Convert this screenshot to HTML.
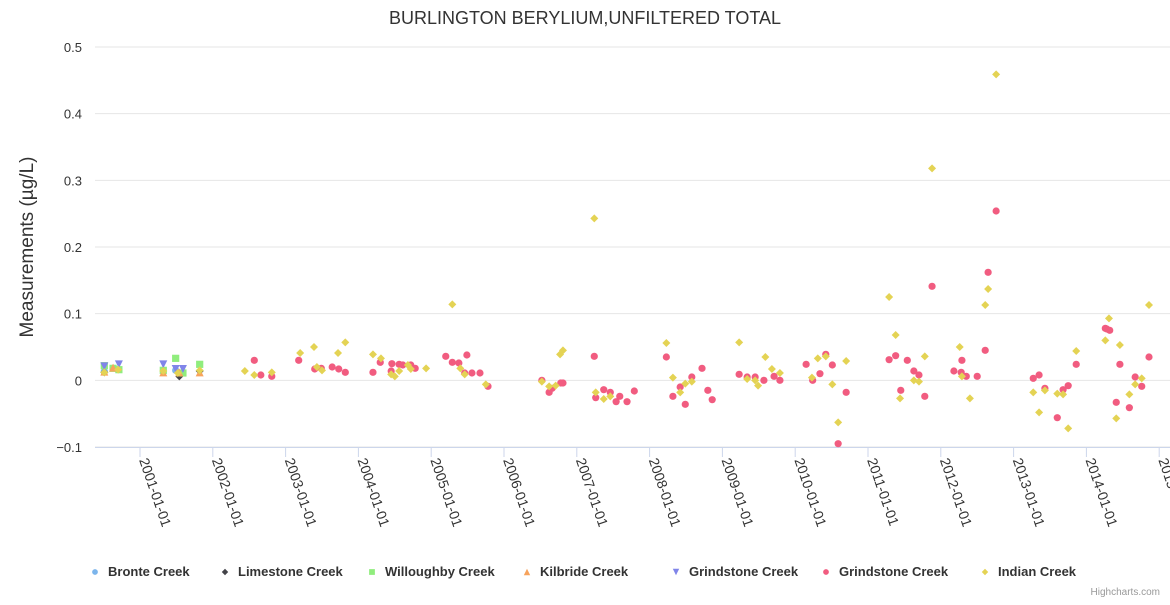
<!DOCTYPE html>
<html><head><meta charset="utf-8"><style>
body{margin:0;background:#fff;font-family:"Liberation Sans",sans-serif}
svg text{font-family:"Liberation Sans",sans-serif}
</style></head><body>
<svg id="chart" width="1170" height="600" xmlns="http://www.w3.org/2000/svg">
<text x="585" y="24" text-anchor="middle" font-size="18" fill="#333">BURLINGTON BERYLIUM,UNFILTERED TOTAL</text>
<text transform="translate(33,247) rotate(-90)" text-anchor="middle" font-size="19" fill="#333">Measurements (µg/L)</text>
<g id="grid"></g><g id="xaxis"></g><g id="marks"></g>
<g id="legend"></g>
<text x="1160" y="595" text-anchor="end" font-size="10" fill="#999">Highcharts.com</text>
</svg>
<script>
const yTicks=[-0.1,0,0.1,0.2,0.3,0.4,0.5];
const xTickYears=[2001,2002,2003,2004,2005,2006,2007,2008,2009,2010,2011,2012,2013,2014,2015];
const seriesNames=["Bronte Creek","Limestone Creek","Willoughby Creek","Kilbride Creek","Grindstone Creek","Grindstone Creek","Indian Creek"];
const bronteDates=[2000.51,2001.49];
const bronteVals=[0.013,0.015];
const limestoneDates=[2000.51,2001.54,2001.82];
const limestoneVals=[0.012,0.006,0.014];
const willoughbyDates=[2000.51,2000.63,2000.71,2001.32,2001.49,2001.59,2001.82];
const willoughbyVals=[0.022,0.018,0.016,0.015,0.033,0.011,0.024];
const kilbrideDates=[2000.51,2000.63,2001.32,2001.54,2001.82];
const kilbrideVals=[0.013,0.019,0.012,0.012,0.012];
const grindTriDates=[2000.51,2000.71,2001.32,2001.49,2001.59];
const grindTriVals=[0.021,0.024,0.024,0.017,0.017];
const grindDates=[2002.57,2002.66,2002.81,2003.18,2003.40,2003.49,2003.64,2003.73,2003.82,2004.20,2004.30,2004.45,2004.46,2004.56,2004.61,2004.72,2004.78,2005.20,2005.29,2005.38,2005.49,2005.46,2005.56,2005.67,2005.78,2006.52,2006.62,2006.66,2006.78,2006.81,2007.24,2007.26,2007.37,2007.46,2007.54,2007.59,2007.69,2007.79,2008.23,2008.32,2008.42,2008.49,2008.58,2008.72,2008.80,2008.86,2009.23,2009.34,2009.45,2009.57,2009.71,2009.79,2010.15,2010.24,2010.34,2010.42,2010.51,2010.70,2010.59,2011.88,2011.29,2011.38,2011.54,2011.63,2011.70,2011.45,2011.78,2012.61,2012.18,2012.28,2012.35,2012.50,2012.29,2013.27,2013.35,2013.43,2013.60,2013.68,2013.75,2013.86,2014.26,2014.28,2014.32,2014.46,2014.41,2014.59,2014.67,2014.76,2014.86,2012.76,2012.65];
const grindVals=[0.030,0.008,0.006,0.030,0.017,0.018,0.020,0.017,0.012,0.012,0.027,0.014,0.025,0.024,0.023,0.023,0.018,0.036,0.027,0.026,0.038,0.011,0.011,0.011,-0.009,0,-0.018,-0.012,-0.004,-0.004,0.036,-0.026,-0.014,-0.018,-0.032,-0.024,-0.032,-0.016,0.035,-0.024,-0.010,-0.036,0.005,0.018,-0.015,-0.029,0.009,0.005,0.005,0,0.006,0,0.024,0,0.010,0.039,0.023,-0.018,-0.095,0.141,0.031,0.037,0.030,0.014,0.008,-0.015,-0.024,0.045,0.014,0.012,0.006,0.006,0.030,0.003,0.008,-0.012,-0.056,-0.014,-0.008,0.024,0.078,0.077,0.075,0.024,-0.033,-0.041,0.005,-0.009,0.035,0.254,0.162];
const indianDates=[2000.51,2000.70,2001.32,2001.52,2001.82,2002.44,2002.57,2002.81,2003.20,2003.39,2003.43,2003.50,2003.72,2003.82,2004.20,2004.31,2004.45,2004.50,2004.56,2004.68,2004.72,2004.93,2005.29,2005.40,2005.46,2005.75,2006.52,2006.62,2006.71,2006.77,2006.81,2007.24,2007.26,2007.37,2007.46,2008.23,2008.32,2008.42,2008.49,2008.58,2009.23,2009.34,2009.45,2009.49,2009.59,2009.68,2009.79,2010.23,2010.31,2010.42,2010.51,2010.59,2010.70,2011.29,2011.38,2011.44,2011.63,2011.70,2011.78,2011.88,2012.26,2012.29,2012.40,2012.61,2012.65,2012.76,2013.27,2013.35,2013.43,2013.60,2013.68,2013.75,2013.86,2014.26,2014.31,2014.46,2014.41,2014.59,2014.67,2014.76,2014.86];
const indianVals=[0.012,0.016,0.014,0.011,0.015,0.014,0.008,0.012,0.041,0.050,0.020,0.015,0.041,0.057,0.039,0.033,0.009,0.006,0.014,0.023,0.017,0.018,0.114,0.018,0.009,-0.006,-0.002,-0.009,-0.008,0.039,0.045,0.243,-0.018,-0.028,-0.024,0.056,0.004,-0.018,-0.005,-0.002,0.057,0.002,0,-0.008,0.035,0.017,0.011,0.004,0.033,0.036,-0.006,-0.063,0.029,0.125,0.068,-0.027,0,-0.002,0.036,0.318,0.050,0.006,-0.027,0.113,0.137,0.459,-0.018,-0.048,-0.015,-0.020,-0.021,-0.072,0.044,0.060,0.093,0.053,-0.057,-0.021,-0.006,0.003,0.113];

const NS="http://www.w3.org/2000/svg";
const L=95,R=1170,T=47,B=447;
function yS(v){return B-(v-(-0.1))/(0.6)*(B-T);}
function xS(yr){return 140+(yr-2001)*72.8;}
function mk(tag,attrs,parent){const e=document.createElementNS(NS,tag);for(const k in attrs)e.setAttribute(k,attrs[k]);parent.appendChild(e);return e;}
const grid=document.getElementById('grid'),xa=document.getElementById('xaxis'),marks=document.getElementById('marks'),leg=document.getElementById('legend');
yTicks.forEach(t=>{
  const y=yS(t);
  const ln=mk('line',{x1:L,x2:R,y1:y,y2:y,stroke:'#e6e6e6','stroke-width':1},grid);
  
  
  const tx=mk('text',{x:82,y:y+5,'text-anchor':'end','font-size':13,fill:'#333'},grid);
  tx.textContent=(t<0?'−':'')+Math.abs(t).toString();
  
  
});
const axl=mk('line',{x1:L,x2:R,y1:B+0.5,y2:B+0.5,stroke:'#ccd6eb'},xa);


xTickYears.forEach(yr=>{
  const x=xS(yr);
  const tk=mk('line',{x1:x,x2:x,y1:B,y2:B+10,stroke:'#ccd6eb'},xa);
  
  
  const tx=mk('text',{x:0,y:0,'font-size':14,fill:'#333',transform:`translate(${x-1},${B+13}) rotate(71)`},xa);
  tx.textContent=yr+'-01-01';
  
  
});
function drawSym(kind,x,y,color,parent,s){
  s=s||1;let e;
  if(kind==='circle')e=mk('circle',{cx:x,cy:y,r:3.6*s,fill:color},parent);
  else if(kind==='diamond')e=mk('path',{d:`M${x} ${y-4*s}L${x+4*s} ${y}L${x} ${y+4*s}L${x-4*s} ${y}Z`,fill:color},parent);
  else if(kind==='square')e=mk('rect',{x:x-3.6*s,y:y-3.6*s,width:7.2*s,height:7.2*s,fill:color},parent);
  else if(kind==='tri')e=mk('path',{d:`M${x} ${y-4*s}L${x+4*s} ${y+4*s}L${x-4*s} ${y+4*s}Z`,fill:color},parent);
  else e=mk('path',{d:`M${x-4*s} ${y-4*s}L${x+4*s} ${y-4*s}L${x} ${y+4*s}Z`,fill:color},parent);
  return e;
}
const series=[
 [bronteDates,bronteVals,'circle','#7cb5ec','bronte-point'],
 [limestoneDates,limestoneVals,'diamond','#434348','limestone-point'],
 [willoughbyDates,willoughbyVals,'square','#90ed7d','willoughby-point'],
 [kilbrideDates,kilbrideVals,'tri','#f7a35c','kilbride-point'],
 [grindTriDates,grindTriVals,'tridown','#8085e9','grindstone-a-point'],
 [grindDates,grindVals,'circle','#f15c80','grindstone-b-point'],
 [indianDates,indianVals,'diamond','#e4d354','indian-point']];
series.forEach(s=>{
  s[0].forEach((d,i)=>{
    const e=drawSym(s[2],xS(d),yS(s[1][i]),s[3],marks);
    
    
  });
});
const legX=[95,225,372,527,676,826,985];
series.forEach((s,i)=>{
  const g=mk('g',{},leg);
  
  
  drawSym(s[2],legX[i],572,s[3],g,0.8);
  const t=mk('text',{x:legX[i]+13,y:576,'font-size':13,'font-weight':'bold',fill:'#333'},g);
  t.textContent=seriesNames[i];
});
</script>
</body></html>
